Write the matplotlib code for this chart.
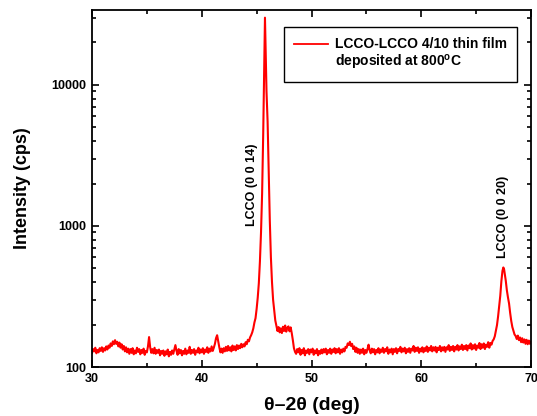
import numpy as np
import matplotlib
matplotlib.use("Agg")
import matplotlib.pyplot as plt
from matplotlib.lines import Line2D
from matplotlib.ticker import FixedLocator, NullFormatter, LogLocator, MultipleLocator, FuncFormatter

plt.rcParams['font.family'] = ['Liberation Sans', 'DejaVu Sans']
plt.rcParams['font.weight'] = 'bold'
plt.rcParams['mathtext.fontset'] = 'custom'
plt.rcParams['mathtext.rm'] = 'Liberation Sans:bold'
plt.rcParams['mathtext.bf'] = 'Liberation Sans:bold'

# ---- data (2theta in deg, intensity in cps) ----
# baseline scan 30.0 - 44.4 deg, step 0.1
two_theta_a = np.round(np.arange(300, 445) / 10.0, 1)
intensity_a = [126, 134, 129, 137, 125, 132, 127, 136, 130, 138,
               128, 136, 131, 140, 133, 142, 137, 147, 141, 152,
               145, 155, 146, 151, 140, 149, 137, 145, 133, 141,
               129, 138, 127, 135, 124, 134, 126, 136, 123, 131,
               125, 137, 128, 134, 123, 132, 126, 135, 122, 130,
               127, 140, 163, 138, 126, 134, 125, 137, 124, 132,
               126, 133, 121, 130, 124, 131, 120, 129, 123, 133,
               119, 128, 122, 131, 124, 133, 143, 130, 122, 134,
               125, 132, 121, 130, 124, 135, 123, 131, 126, 139,
               124, 132, 126, 134, 122, 131, 127, 137, 125, 133,
               127, 136, 124, 133, 128, 138, 126, 135, 129, 140,
               130, 137, 146, 160, 168, 152, 138, 127, 135, 126,
               136, 129, 139, 130, 141, 131, 138, 129, 142, 132,
               140, 131, 143, 134, 142, 136, 146, 138, 145, 140,
               150, 145, 156, 152, 162]

# (0 0 14) reflection and shoulder
two_theta_p1 = [44.5, 44.6, 44.7, 44.8, 44.9, 45.0, 45.1, 45.2, 45.3, 45.4,
                45.5, 45.6, 45.7, 45.76, 45.83, 45.9, 46.0, 46.1, 46.2, 46.3,
                46.4, 46.5, 46.6, 46.7, 46.8, 46.9, 47.0, 47.1, 47.2, 47.3,
                47.4, 47.5, 47.6, 47.7, 47.8, 47.9, 48.0, 48.1, 48.2, 48.3,
                48.4, 48.5]
intensity_p1 = [168, 176, 188, 207, 222, 258, 310, 392, 560, 900,
                1700, 4500, 14000, 30000, 16000, 9000, 5500, 2500, 1100, 600,
                400, 300, 252, 214, 197, 180, 192, 176, 188, 174,
                193, 180, 197, 178, 190, 194, 179, 191, 174, 155,
                136, 128]

# baseline scan 48.6 - 66.6 deg, step 0.1
two_theta_b = np.round(np.arange(486, 667) / 10.0, 1)
intensity_b = [124, 134, 127, 136, 122, 132, 125, 136, 121, 131,
               126, 134, 123, 133, 127, 135, 122, 131, 125, 134,
               121, 130, 124, 133, 125, 134, 127, 135, 123, 132,
               126, 135, 124, 133, 128, 136, 125, 134, 127, 136,
               124, 133, 127, 135, 129, 139, 137, 147, 143, 151,
               141, 146, 134, 140, 128, 137, 126, 134, 124, 133,
               126, 135, 123, 132, 126, 134, 144, 131, 125, 135,
               127, 134, 123, 132, 127, 136, 125, 133, 128, 137,
               126, 134, 129, 138, 124, 133, 127, 135, 123, 134,
               128, 136, 125, 134, 130, 139, 127, 135, 129, 137,
               125, 134, 128, 136, 126, 135, 131, 141, 128, 137,
               130, 138, 126, 135, 129, 138, 127, 136, 130, 140,
               128, 137, 131, 141, 129, 138, 131, 139, 127, 137,
               132, 141, 129, 138, 131, 139, 128, 138, 133, 143,
               130, 139, 132, 141, 129, 139, 133, 143, 131, 140,
               134, 144, 132, 141, 134, 143, 131, 142, 136, 147,
               133, 143, 135, 145, 132, 142, 137, 148, 134, 145,
               137, 147, 134, 144, 139, 150, 137, 148, 144, 153,
               157]

# (0 0 20) reflection and tail
two_theta_p2 = [66.7, 66.8, 66.9, 67.0, 67.1, 67.2, 67.3, 67.4, 67.48, 67.55,
                67.6, 67.7, 67.8, 67.9, 68.0, 68.1, 68.2, 68.3, 68.4, 68.5,
                68.6, 68.7, 68.8, 68.9, 69.0, 69.1, 69.2, 69.3, 69.4, 69.5,
                69.6, 69.7, 69.8, 69.9, 70.0]
intensity_p2 = [165, 180, 198, 228, 268, 320, 405, 480, 508, 492,
                462, 410, 350, 312, 282, 242, 212, 192, 181, 170,
                166, 158, 167, 155, 162, 150, 160, 149, 157, 146,
                156, 145, 154, 146, 151]

peak_labels = ["LCCO (0 0 14)", "LCCO (0 0 20)"]
peak_label_x = [44.58, 67.48]
peak_label_y = [1950, 1165]

legend_line1 = "LCCO-LCCO 4/10 thin film"
legend_line2 = "deposited at 800$^\\mathrm{o}$C"

x = list(two_theta_a) + two_theta_p1 + list(two_theta_b) + two_theta_p2
y = intensity_a + intensity_p1 + intensity_b + intensity_p2

fig = plt.figure(figsize=(5.37, 4.16), dpi=100)
ax = fig.add_axes([92/537, 1-367/416, (531-92)/537, (367-10)/416])
line, = ax.plot(x, y, color='#ff0000', lw=1.5)
ax.set_yscale('log')
ax.set_xlim(30, 70)
ax.set_ylim(100, 34000)

ax.xaxis.set_major_locator(MultipleLocator(10))
ax.xaxis.set_minor_locator(MultipleLocator(5))
ax.yaxis.set_major_locator(FixedLocator([100, 1000, 10000]))
ax.yaxis.set_major_formatter(FuncFormatter(lambda v, p: f"{int(v)}"))
ax.yaxis.set_minor_locator(LogLocator(base=10, subs=np.arange(2, 10)))
ax.yaxis.set_minor_formatter(NullFormatter())
ax.tick_params(which='both', direction='in', top=True, right=True, width=1.2)
ax.tick_params(which='major', length=5, labelsize=9, pad=4)
ax.tick_params(which='minor', length=3)
for lbl in ax.get_xticklabels() + ax.get_yticklabels():
    lbl.set_fontweight('bold')
for s in ax.spines.values():
    s.set_linewidth(1.3)

ax.set_xlabel("\u03b8\u20132\u03b8 (deg)", fontsize=14, fontweight='bold', labelpad=9)
ax.set_ylabel("Intensity (cps)", fontsize=13, fontweight='bold', labelpad=15)

for t, tx, ty in zip(peak_labels, peak_label_x, peak_label_y):
    ax.text(tx, ty, t, rotation=90, ha='center', va='center', fontsize=9, fontweight='bold')

blank = Line2D([], [], color='none')
leg = ax.legend([line, blank], [legend_line1, legend_line2],
                loc='upper right', bbox_to_anchor=(517/537, 1-27/416), bbox_transform=fig.transFigure,
                borderaxespad=0, fancybox=False, edgecolor='black', framealpha=1, fontsize=10,
                handlelength=2.4, borderpad=0.75, handletextpad=0.5, labelspacing=0.1)
leg.get_frame().set_linewidth(1.0)
leg.get_lines()[0].set_linewidth(1.3)
for t in leg.get_texts():
    t.set_fontweight('bold')

fig.savefig("out.png", dpi=100)
